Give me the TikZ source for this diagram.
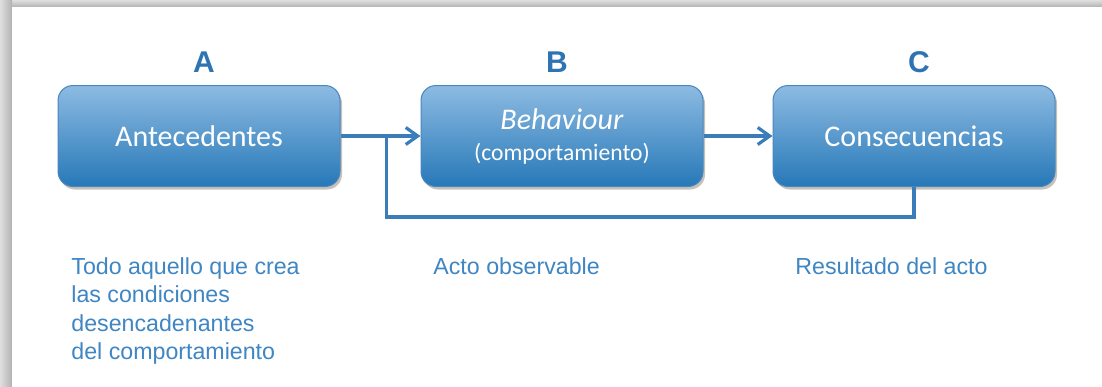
\documentclass[tikz,border=0pt]{standalone}
\usepackage{fontspec}
\setmainfont{Liberation Sans}
\newfontfamily\boxfont{Carlito}
\usetikzlibrary{arrows.meta,positioning,shadows}
\definecolor{boxtop}{HTML}{8DBBE2}
\definecolor{boxmid}{HTML}{4F90CB}
\definecolor{boxbot}{HTML}{2678B8}
\definecolor{boxedge}{HTML}{4A86BF}
\definecolor{linkblue}{HTML}{3A7DB8}
\definecolor{lettblue}{HTML}{2E74B3}
\definecolor{noteblue}{HTML}{3F86C3}

\begin{document}
\begin{tikzpicture}[
    x=0.5pt, y=-0.5pt,
    stage/.style={draw=boxedge, line width=0.5pt, rounded corners=7.5pt,
        minimum width=141pt, minimum height=50.5pt, align=center,
        top color=boxtop, middle color=boxmid, bottom color=boxbot, text=white,
        font=\boxfont\fontsize{15}{15.5}\selectfont,
        drop shadow={shadow xshift=1pt, shadow yshift=-1.5pt, fill=black!60!brown, opacity=.3}},
    letter/.style={text=lettblue, inner sep=0pt, font=\bfseries\fontsize{15}{18}\selectfont},
    note/.style={text=noteblue, inner sep=0pt, anchor=north west, align=left,
        font=\fontsize{11.6}{14.25}\selectfont},
    link/.style={draw=linkblue, line width=1.75pt},
    tip/.style={-{Straight Barb[length=6pt,width=8.5pt,line width=1.6pt]}}
]
% frame
\useasboundingbox (0,0) rectangle (1102,386);
\shade[top color=gray!25, bottom color=gray!60] (0,0) rectangle (1102,7);
\shade[left color=gray!25, right color=gray!60] (0,0) rectangle (12,386);
\fill[white] (12,7) rectangle (1102,386);

% stages
\node[stage] (ante) at (199,136) {Antecedentes};
\node[stage, right=40pt of ante] (beh) {\textit{Behaviour}\\{\fontsize{11.8}{15.5}\selectfont(comportamiento)}};
\node[stage, right=34.5pt of beh] (cons) {Consecuencias};

\node[letter, above=6pt of ante, xshift=2.5pt] (la) {A};
\node[letter, above=6pt of beh, xshift=-2.5pt] (lb) {B};
\node[letter, above=6pt of cons, xshift=2.5pt] (lc) {C};

% connectors
\coordinate[right=23pt of ante.east] (fork);
\draw[link, tip] (ante) -- (beh);
\draw[link, tip] (beh) -- (cons);
\draw[link] (cons.south) -- ++(0,-15pt) -| (fork);

% notes
\node[note] (na) at (71,257) {Todo aquello que crea\\las condiciones\\desencadenantes\\del comportamiento};
\node[note] (nb) at (433,257) {Acto observable};
\node[note] (nc) at (795,257) {Resultado del acto};
\end{tikzpicture}
\end{document}
